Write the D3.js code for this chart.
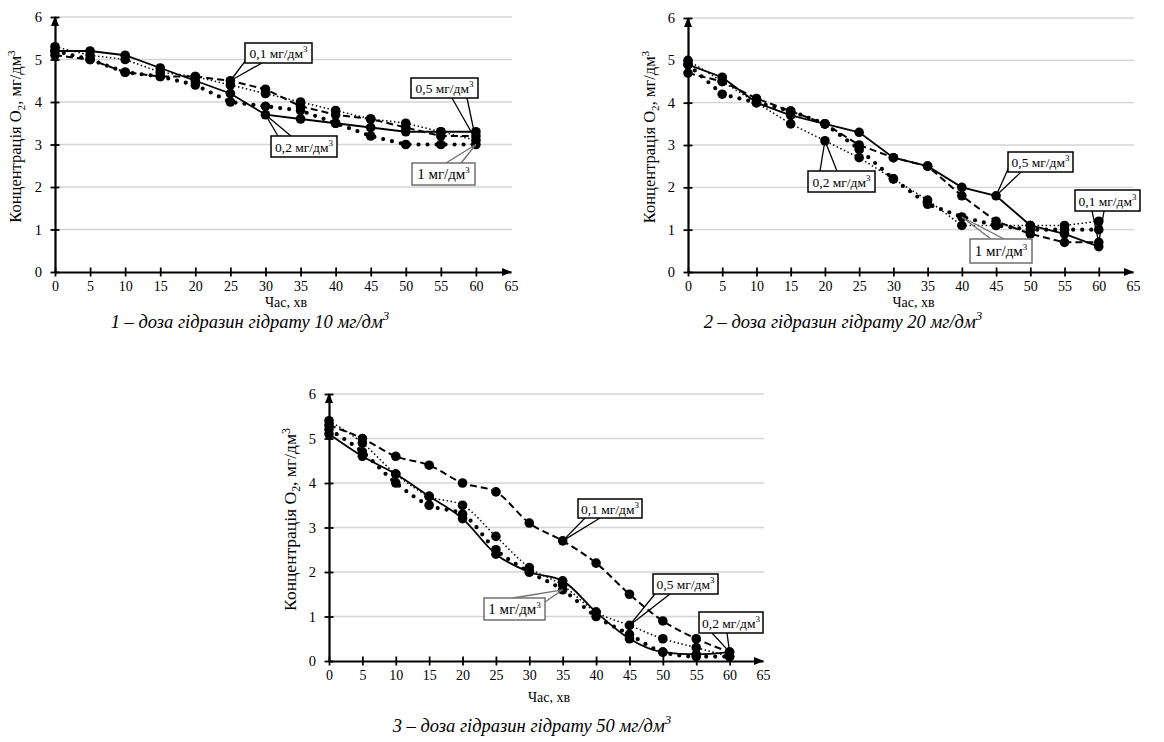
<!DOCTYPE html>
<html>
<head>
<meta charset="utf-8">
<script src="https://cdn.jsdelivr.net/npm/d3@7"></script>
<style>
  html, body { margin: 0; padding: 0; background: #fff; }
  svg { display: block; }
  svg text { font-family: "Liberation Serif", "Times New Roman", Times, "DejaVu Serif", serif; fill: #000; }
</style>
</head>
<body>
<svg id="chart" width="1164" height="742"></svg>
<script>
// ---------------- DATA ----------------
const TIME = [0, 5, 10, 15, 20, 25, 30, 35, 40, 45, 50, 55, 60];
const X_TICKS = [0, 5, 10, 15, 20, 25, 30, 35, 40, 45, 50, 55, 60, 65];
const Y_TICKS = [0, 1, 2, 3, 4, 5, 6];
const X_TITLE = "Час, хв";
const Y_TITLE = "Концентрація O";
const DOSES = ["0,1", "0,2", "0,5", "1"];

// Panel 1 – 10 мг/дм3
const P1_D01 = [5.1, 5.0, 4.7, 4.6, 4.6, 4.5, 4.3, 3.9, 3.7, 3.6, 3.4, 3.2, 3.2];
const P1_D02 = [5.2, 5.2, 5.1, 4.8, 4.5, 4.2, 3.7, 3.6, 3.5, 3.4, 3.3, 3.3, 3.3];
const P1_D05 = [5.3, 5.1, 5.0, 4.7, 4.6, 4.4, 4.2, 4.0, 3.8, 3.6, 3.5, 3.3, 3.1];
const P1_D1  = [5.2, 5.0, 4.7, 4.6, 4.4, 4.0, 3.9, 3.8, 3.5, 3.2, 3.0, 3.0, 3.0];

// Panel 2 – 20 мг/дм3
const P2_D01 = [4.7, 4.5, 4.1, 3.8, 3.5, 3.0, 2.7, 2.5, 1.8, 1.2, 0.9, 0.7, 0.7];
const P2_D02 = [5.0, 4.5, 4.0, 3.5, 3.1, 2.7, 2.2, 1.7, 1.1, 1.1, 1.1, 1.1, 1.2];
const P2_D05 = [4.9, 4.6, 4.0, 3.7, 3.5, 3.3, 2.7, 2.5, 2.0, 1.8, 1.1, 0.9, 0.6];
const P2_D1  = [4.9, 4.2, 4.0, 3.8, 3.5, 2.9, 2.2, 1.6, 1.3, 1.1, 1.0, 1.0, 1.0];

// Panel 3 – 50 мг/дм3
const P3_D01 = [5.3, 5.0, 4.6, 4.4, 4.0, 3.8, 3.1, 2.7, 2.2, 1.5, 0.9, 0.5, 0.2];
const P3_D02 = [5.1, 4.6, 4.2, 3.7, 3.2, 2.4, 2.0, 1.8, 1.1, 0.5, 0.2, 0.15, 0.2];
const P3_D05 = [5.4, 4.9, 4.2, 3.7, 3.5, 2.8, 2.1, 1.7, 1.1, 0.8, 0.5, 0.3, 0.1];
const P3_D1  = [5.2, 4.7, 4.0, 3.5, 3.3, 2.5, 2.0, 1.6, 1.0, 0.6, 0.2, 0.1, 0.1];

const CAPTIONS = [
  "1 – доза гідразин гідрату 10 мг/дм",
  "2 – доза гідразин гідрату 20 мг/дм",
  "3 – доза гідразин гідрату 50 мг/дм"
];

// ---------------- STYLES ----------------
const FONT = '"Liberation Serif", "Times New Roman", Times, "DejaVu Serif", serif';
const STYLE = {
  solid:  { width: 1.8, dash: null, cap: "butt" },
  dashed: { width: 2,   dash: "7,4", cap: "butt" },
  fine:   { width: 1.5, dash: "1.5,2.5", cap: "butt" },
  round:  { width: 4.2, dash: "0,9", cap: "round" }
};

// ---------------- LAYOUT ----------------
const panels = [
  {
    xr: [55, 511], yr: [272, 17], gridRight: 512, xTitleDy: 35, yTitleSize: 16.5,
    series: [
      { dose: "0,1", values: P1_D01, style: "dashed" },
      { dose: "0,2", values: P1_D02, style: "solid" },
      { dose: "0,5", values: P1_D05, style: "fine" },
      { dose: "1",   values: P1_D1,  style: "round" }
    ],
    curve: d3.curveLinear,
    caption: CAPTIONS[0], capX: 250, capY: 328,
    yTitleX: 21,
    callouts: [
      { dose: "0,1", t: 25, box: [245, 43, 67, 20], base: [[246, 60], [262, 63]], gray: false },
      { dose: "0,5", t: 60, box: [411, 78, 67, 20], base: [[452, 98], [467, 98]], gray: false },
      { dose: "0,2", t: 30, box: [271, 136, 66, 21], base: [[278, 136], [291, 136]], gray: false },
      { dose: "1",   t: 60, box: [412, 163, 63, 22], base: [[446, 163], [461, 163]], gray: true }
    ]
  },
  {
    xr: [688, 1133], yr: [272, 18], gridRight: 1134, xTitleDy: 35, yTitleSize: 16.5,
    series: [
      { dose: "0,1", values: P2_D01, style: "dashed" },
      { dose: "0,2", values: P2_D02, style: "fine" },
      { dose: "0,5", values: P2_D05, style: "solid" },
      { dose: "1",   values: P2_D1,  style: "round" }
    ],
    curve: d3.curveLinear,
    caption: CAPTIONS[1], capX: 843, capY: 328,
    yTitleX: 655,
    callouts: [
      { dose: "0,2", t: 20, box: [808, 171, 67, 21], base: [[820, 171], [837, 171]], gray: false },
      { dose: "0,5", t: 45, box: [1008, 152, 65, 20], base: [[1009, 167], [1021, 172]], gray: false },
      { dose: "0,1", t: 60, box: [1075, 190, 65, 21], base: [[1092, 211], [1104, 211]], gray: false },
      { dose: "1",   t: 40, box: [970, 239, 62, 24], base: [[991, 239], [1004, 239]], gray: true }
    ]
  },
  {
    xr: [329, 763], yr: [661, 394], gridRight: 764, xTitleDy: 41, yTitleSize: 17.5,
    series: [
      { dose: "0,1", values: P3_D01, style: "dashed" },
      { dose: "0,2", values: P3_D02, style: "solid" },
      { dose: "0,5", values: P3_D05, style: "fine" },
      { dose: "1",   values: P3_D1,  style: "round" }
    ],
    curve: d3.curveMonotoneX,
    caption: CAPTIONS[2], capX: 532, capY: 732,
    yTitleX: 296,
    callouts: [
      { dose: "0,1", t: 35, box: [578, 499, 64, 19], base: [[585, 518], [600, 518]], gray: false },
      { dose: "0,5", t: 45, box: [653, 574, 65, 20], base: [[655, 594], [670, 594]], gray: false },
      { dose: "1",   t: 35, box: [484, 598, 61, 22], base: [[513, 598], [545, 602]], gray: true },
      { dose: "0,2", t: 60, box: [699, 612, 64, 21], base: [[712, 633], [727, 633]], gray: false }
    ]
  }
];

// ---------------- DRAW ----------------
const svg = d3.select("#chart").attr("font-family", FONT);

panels.forEach(p => {
  const x = d3.scaleLinear().domain([0, 65]).range(p.xr);
  const y = d3.scaleLinear().domain([0, 6]).range(p.yr);
  const g = svg.append("g");

  // gridlines
  g.append("g").selectAll("line").data(Y_TICKS.filter(v => v > 0)).join("line")
    .attr("x1", x(0)).attr("x2", p.gridRight)
    .attr("y1", d => y(d)).attr("y2", d => y(d))
    .attr("stroke", "#d4d4d4").attr("stroke-width", 1.3);

  // x axis
  const xAxis = d3.axisBottom(x).tickValues(X_TICKS).tickSizeInner(4).tickSizeOuter(0).tickPadding(5)
    .tickFormat(d3.format("d"));
  const gx = g.append("g").attr("transform", `translate(0,${y(0)})`).call(xAxis).attr("font-family", FONT);
  gx.select(".domain").attr("stroke", "#000").attr("stroke-width", 2.2);
  gx.selectAll(".tick line").attr("y1", -4.5).attr("y2", 4.5).attr("stroke", "#000").attr("stroke-width", 1.8)
    .filter(d => d === 65).remove();
  gx.selectAll(".tick text").attr("font-size", 14).attr("font-family", FONT);

  // y axis
  const yAxis = d3.axisLeft(y).tickValues(Y_TICKS).tickSizeInner(4).tickSizeOuter(0).tickPadding(9)
    .tickFormat(d3.format("d"));
  const gy = g.append("g").attr("transform", `translate(${x(0)},0)`).call(yAxis).attr("font-family", FONT);
  gy.select(".domain").attr("stroke", "#000").attr("stroke-width", 2.2);
  gy.selectAll(".tick line").attr("x1", -4.5).attr("x2", 4.5).attr("stroke", "#000").attr("stroke-width", 1.8);
  gy.selectAll(".tick text").attr("font-size", 14.5).attr("font-family", FONT);

  // arrowheads
  const ax = x(0), ay = y(6);
  g.append("path").attr("d", `M${ax},${ay - 1} L${ax - 4},${ay + 9} L${ax + 4},${ay + 9} Z`).attr("fill", "#000");
  const bx = x(65), by = y(0);
  g.append("path").attr("d", `M${bx + 1},${by} L${bx - 9},${by - 4} L${bx - 9},${by + 4} Z`).attr("fill", "#000");

  // axis titles
  g.append("text").attr("x", (x(0) + x(65)) / 2 + 3).attr("y", y(0) + p.xTitleDy)
    .attr("text-anchor", "middle").attr("font-size", 14).text(X_TITLE);
  const yt = g.append("text")
    .attr("transform", `translate(${p.yTitleX},${(y(0) + y(6)) / 2 - 8}) rotate(-90)`)
    .attr("text-anchor", "middle").attr("font-size", p.yTitleSize);
  yt.append("tspan").text(Y_TITLE);
  yt.append("tspan").attr("font-size", p.yTitleSize * 0.68).attr("dy", 4).text("2");
  yt.append("tspan").attr("dy", -4).text(", мг/дм");
  yt.append("tspan").attr("font-size", p.yTitleSize * 0.68).attr("dy", -6).text("3");

  // lines
  const line = d3.line().x((d, i) => x(TIME[i])).y(d => y(d)).curve(p.curve);
  p.series.forEach(s => {
    const st = STYLE[s.style];
    g.append("path").datum(s.values).attr("d", line)
      .attr("fill", "none").attr("stroke", "#000")
      .attr("stroke-width", st.width).attr("stroke-linecap", st.cap)
      .attr("stroke-dasharray", st.dash);
  });
  // markers
  p.series.forEach(s => {
    g.append("g").selectAll("circle").data(s.values).join("circle")
      .attr("cx", (d, i) => x(TIME[i])).attr("cy", d => y(d)).attr("r", 4.8).attr("fill", "#000");
  });

  // callouts
  p.callouts.forEach(c => {
    const s = p.series.find(q => q.dose === c.dose);
    const idx = TIME.indexOf(c.t);
    const tx = x(c.t), ty = y(s.values[idx]);
    const col = c.gray ? "#707070" : "#000";
    const [bx0, by0, bw, bh] = c.box;
    g.append("path")
      .attr("d", `M${c.base[0][0]},${c.base[0][1]} L${tx},${ty} L${c.base[1][0]},${c.base[1][1]}`)
      .attr("fill", "none").attr("stroke", col).attr("stroke-width", 1.3);
    g.append("rect").attr("x", bx0).attr("y", by0).attr("width", bw).attr("height", bh)
      .attr("fill", "#fff").attr("stroke", col).attr("stroke-width", 1.5);
    const t = g.append("text").attr("x", bx0 + bw / 2).attr("y", by0 + bh / 2 + 5)
      .attr("text-anchor", "middle").attr("font-size", c.gray ? 15 : 13.5);
    t.append("tspan").text(c.dose + " мг/дм");
    t.append("tspan").attr("font-size", 9).attr("dy", -6).text("3");
  });

  // caption
  const cap = svg.append("text").attr("x", p.capX).attr("y", p.capY)
    .attr("text-anchor", "middle").attr("font-size", 18.5).attr("font-style", "italic");
  cap.append("tspan").text(p.caption);
  cap.append("tspan").attr("font-size", 13).attr("dy", -8).text("3");
});
</script>
</body>
</html>
